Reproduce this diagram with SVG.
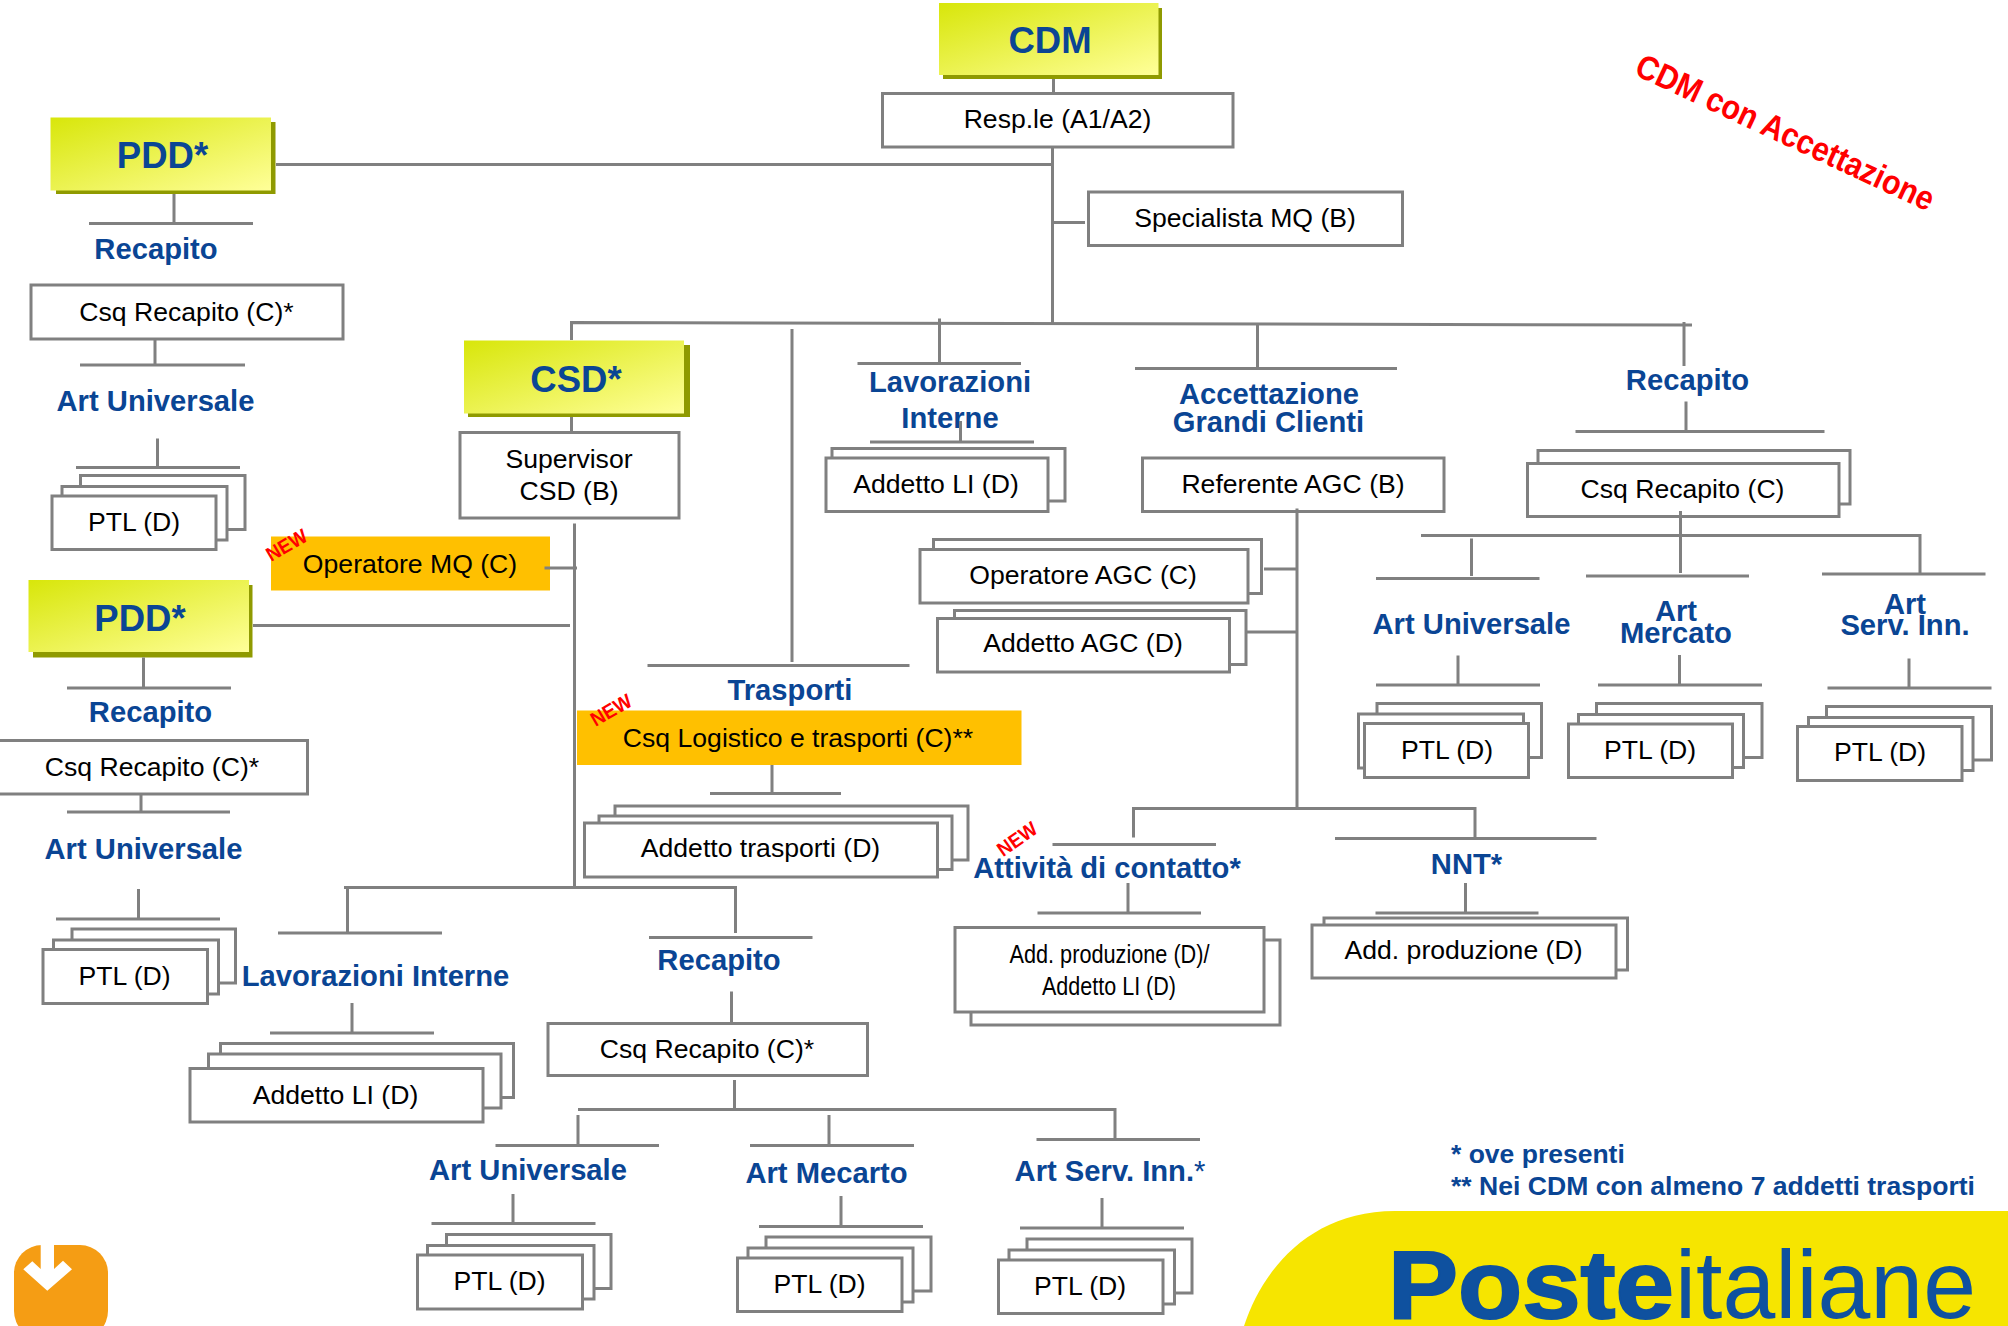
<svg xmlns="http://www.w3.org/2000/svg" width="2008" height="1326" viewBox="0 0 2008 1326">
<style>
text{font-family:"Liberation Sans",Arial,sans-serif;text-anchor:middle}
.b{fill:#fff;stroke:#808080;stroke-width:3}
.o{fill:#FFC000}
.s{fill:#8F9A00}
.y{fill:url(#yg)}
.t{font-size:26.6px;fill:#000;transform:translateY(-1.2px)}
.h{font-size:29.2px;font-weight:700;fill:#0A4594;transform:translateY(-1.2px)}
.k{font-size:36.5px;font-weight:700;fill:#0A4594;transform:translateY(-1.2px)}
.n{font-size:20px;font-weight:700;fill:#FF0000}
.f{font-size:26.5px;font-weight:700;fill:#0A4594;text-anchor:start;transform:translateY(-1.2px)}
#connectors path{fill:none;stroke:#808080;stroke-width:3}
</style>
<defs>
<linearGradient id="yg" x1="0" y1="0" x2="1" y2="1">
<stop offset="0" stop-color="#D8E60A"/>
<stop offset="1" stop-color="#FFFF99"/>
</linearGradient>
</defs>
<rect width="2008" height="1326" fill="#fff"/>

<g id="logo">
<path d="M1244 1326C1262 1270 1310 1211 1395 1211H2008V1326Z" fill="#F6E500"/>
<text x="1388" y="1318" font-size="96" font-weight="700" fill="#0F519F" stroke="#0F519F" stroke-width="2" textLength="286" lengthAdjust="spacingAndGlyphs" style="text-anchor:start">Poste</text>
<text x="1675" y="1318" font-size="96" fill="#0F519F" textLength="301" lengthAdjust="spacingAndGlyphs" style="text-anchor:start">italiane</text>
</g>
<g id="download-icon">
<rect x="14" y="1245" width="94" height="94" rx="28" fill="#F59D14"/>
<path d="M40.7 1245H54V1269L63 1260.7L72 1269.3L47.3 1290.7L23.3 1269.3L32.3 1261.3L40.7 1269Z" fill="#fff"/>
</g>
<text id="title-note" class="n" transform="translate(1785 133) rotate(25)" y="11" textLength="325" lengthAdjust="spacingAndGlyphs" style="font-size:34px">CDM con Accettazione</text>

<g id="cdm"><rect class="s" x="943" y="8" width="219" height="71"/><rect class="y" x="939" y="3" width="219.500" height="72"/><text class="k" x="1050" y="54.500">CDM</text></g>
<g id="resp"><rect class="b" x="882.500" y="93.500" width="350.500" height="53.500"/><text class="t" x="1057.500" y="129">Resp.le (A1/A2)</text></g>
<g id="specialista-mq"><rect class="b" x="1088.500" y="192" width="314" height="53.500"/><text class="t" x="1245" y="228.500">Specialista MQ (B)</text></g>

<g id="pdd-1"><rect class="s" x="56" y="122" width="219.500" height="72"/><rect class="y" x="50.500" y="117.500" width="220.500" height="73"/><text class="k" x="162.500" y="169.500">PDD*</text></g>
<g id="recapito-1"><text class="h" x="156" y="260">Recapito</text></g>
<g id="csq-recapito-1"><rect class="b" x="31" y="285" width="312" height="54"/><text class="t" x="186.500" y="322">Csq Recapito (C)*</text></g>
<g id="art-universale-1"><text class="h" x="155.500" y="412.500">Art Universale</text></g>
<g id="ptl-1"><rect class="b" x="80.500" y="475.500" width="164.500" height="54"/><rect class="b" x="62" y="486.500" width="165" height="53.500"/><rect class="b" x="52" y="496" width="164" height="53.500"/><text class="t" x="134" y="532">PTL (D)</text></g>

<g id="csd"><rect class="s" x="468" y="345" width="222" height="72"/><rect class="y" x="464" y="340.500" width="220" height="73"/><text class="k" x="576" y="393.500">CSD*</text></g>
<g id="supervisor-csd"><rect class="b" x="460" y="432.500" width="219" height="85.500"/><text class="t" x="569" y="469">Supervisor</text><text class="t" x="569" y="501">CSD (B)</text></g>
<g id="operatore-mq"><rect class="o" x="271" y="536.500" width="279" height="54"/><text class="t" x="410" y="574.500">Operatore MQ (C)</text><text class="n" transform="translate(286.500 545) rotate(-30)" y="7" textLength="44" lengthAdjust="spacingAndGlyphs">NEW</text></g>

<g id="pdd-2"><rect class="s" x="33" y="585" width="219.500" height="72.500"/><rect class="y" x="28.500" y="580" width="220.500" height="72"/><text class="k" x="140" y="632.500">PDD*</text></g>
<g id="recapito-2"><text class="h" x="150.500" y="723.500">Recapito</text></g>
<g id="csq-recapito-2"><rect class="b" x="-3" y="740.500" width="310.500" height="53.500"/><text class="t" x="152" y="777">Csq Recapito (C)*</text></g>
<g id="art-universale-2"><text class="h" x="143.500" y="860">Art Universale</text></g>
<g id="ptl-2"><rect class="b" x="72" y="929" width="163.500" height="54"/><rect class="b" x="53.500" y="940" width="165" height="54"/><rect class="b" x="43" y="949.500" width="164.500" height="54"/><text class="t" x="124.500" y="986">PTL (D)</text></g>

<g id="lavorazioni-interne-csd"><text class="h" x="375.500" y="987">Lavorazioni Interne</text></g>
<g id="addetto-li-csd"><rect class="b" x="220.500" y="1043.500" width="293" height="54"/><rect class="b" x="208.500" y="1054" width="292.500" height="54"/><rect class="b" x="190" y="1068.500" width="293" height="53.500"/><text class="t" x="335.500" y="1105">Addetto LI (D)</text></g>

<g id="recapito-csd"><text class="h" x="719" y="971.500">Recapito</text></g>
<g id="csq-recapito-csd"><rect class="b" x="548" y="1023.500" width="319.500" height="52"/><text class="t" x="707" y="1059">Csq Recapito (C)*</text></g>
<g id="art-universale-csd"><text class="h" x="528" y="1181.500">Art Universale</text></g>
<g id="art-mecarto-csd"><text class="h" x="826.500" y="1184">Art Mecarto</text></g>
<g id="art-serv-inn-csd"><text class="h" x="1110" y="1182.500">Art Serv. Inn.<tspan font-weight="400">*</tspan></text></g>
<g id="ptl-csd-1"><rect class="b" x="446.500" y="1234.500" width="164.500" height="54"/><rect class="b" x="427.500" y="1245.500" width="166.500" height="53.500"/><rect class="b" x="417.500" y="1255" width="165" height="54"/><text class="t" x="499.500" y="1291.500">PTL (D)</text></g>
<g id="ptl-csd-2"><rect class="b" x="766" y="1237" width="165" height="54"/><rect class="b" x="748" y="1248" width="165" height="54"/><rect class="b" x="737.500" y="1258" width="164.500" height="53.500"/><text class="t" x="819.500" y="1294">PTL (D)</text></g>
<g id="ptl-csd-3"><rect class="b" x="1027" y="1239" width="165" height="54"/><rect class="b" x="1009" y="1250" width="165.500" height="54"/><rect class="b" x="998.500" y="1260" width="164.500" height="53.500"/><text class="t" x="1080" y="1296">PTL (D)</text></g>

<g id="trasporti"><text class="h" x="790" y="701">Trasporti</text></g>
<g id="csq-logistico"><rect class="o" x="577" y="710.500" width="444.500" height="54.500"/><text class="t" x="798" y="748">Csq Logistico e trasporti (C)**</text><text class="n" transform="translate(611 710) rotate(-30)" y="7" textLength="44" lengthAdjust="spacingAndGlyphs">NEW</text></g>
<g id="addetto-trasporti"><rect class="b" x="615" y="806" width="353" height="54"/><rect class="b" x="599" y="816" width="353" height="53.500"/><rect class="b" x="584.500" y="823" width="353" height="54"/><text class="t" x="760.500" y="858">Addetto trasporti (D)</text></g>

<g id="lavorazioni-interne"><text class="h" x="950" y="393.500">Lavorazioni</text><text class="h" x="950" y="429.500">Interne</text></g>
<g id="addetto-li"><rect class="b" x="832" y="448.500" width="233" height="52.500"/><rect class="b" x="826" y="458" width="222" height="53.500"/><text class="t" x="936" y="494.500">Addetto LI (D)</text></g>

<g id="accettazione"><text class="h" x="1269" y="405">Accettazione</text><text class="h" x="1268.500" y="433.500">Grandi Clienti</text></g>
<g id="referente-agc"><rect class="b" x="1142.500" y="458" width="301.500" height="53.500"/><text class="t" x="1293" y="494.500">Referente AGC (B)</text></g>
<g id="operatore-agc"><rect class="b" x="933.500" y="539.500" width="328" height="54"/><rect class="b" x="920" y="549.500" width="328" height="53.500"/><text class="t" x="1083" y="585">Operatore AGC (C)</text></g>
<g id="addetto-agc"><rect class="b" x="954.500" y="610.500" width="291.500" height="54"/><rect class="b" x="937.500" y="618.500" width="292" height="53.500"/><text class="t" x="1083" y="653.500">Addetto AGC (D)</text></g>

<g id="attivita-contatto"><text class="h" x="1107" y="879.500">Attività di contatto*</text><text class="n" transform="translate(1017 839) rotate(-35)" y="7" textLength="44" lengthAdjust="spacingAndGlyphs">NEW</text></g>
<g id="add-produzione-li"><rect class="b" x="971" y="940" width="309" height="85"/><rect class="b" x="955" y="927.500" width="309" height="84.500"/><text class="t" x="1109.500" y="964" textLength="200" lengthAdjust="spacingAndGlyphs">Add. produzione (D)/</text><text class="t" x="1109" y="996.500" textLength="134" lengthAdjust="spacingAndGlyphs">Addetto LI (D)</text></g>
<g id="nnt"><text class="h" x="1466.500" y="875">NNT*</text></g>
<g id="add-produzione"><rect class="b" x="1324" y="918" width="303.500" height="52"/><rect class="b" x="1312" y="925" width="304" height="53"/><text class="t" x="1463.500" y="960.500">Add. produzione (D)</text></g>

<g id="recapito-r"><text class="h" x="1687.500" y="391.500">Recapito</text></g>
<g id="csq-recapito-r"><rect class="b" x="1538" y="450.500" width="312" height="53.500"/><rect class="b" x="1527.500" y="463.500" width="311.500" height="53"/><text class="t" x="1682.500" y="499">Csq Recapito (C)</text></g>
<g id="art-universale-r"><text class="h" x="1471.500" y="635">Art Universale</text></g>
<g id="art-mercato-r"><text class="h" x="1676" y="622.500">Art</text><text class="h" x="1676" y="644.500">Mercato</text></g>
<g id="art-serv-inn-r"><text class="h" x="1905" y="615">Art</text><text class="h" x="1905" y="636.500">Serv. Inn.</text></g>
<g id="ptl-r-1"><rect class="b" x="1377" y="703.500" width="164.500" height="54"/><rect class="b" x="1358.500" y="714" width="165" height="54"/><rect class="b" x="1364.500" y="723.500" width="164" height="54"/><text class="t" x="1447" y="760">PTL (D)</text></g>
<g id="ptl-r-2"><rect class="b" x="1596.500" y="703.500" width="165.500" height="54"/><rect class="b" x="1578.500" y="714.500" width="165" height="53"/><rect class="b" x="1568.500" y="724" width="164" height="53.500"/><text class="t" x="1650" y="760">PTL (D)</text></g>
<g id="ptl-r-3"><rect class="b" x="1826.500" y="706.500" width="165" height="53.500"/><rect class="b" x="1808.500" y="717.500" width="164.500" height="53"/><rect class="b" x="1797.500" y="726.500" width="164.500" height="54"/><text class="t" x="1880" y="762.500">PTL (D)</text></g>

<g id="footnotes"><text class="f" x="1451" y="1164">* ove presenti</text><text class="f" x="1451" y="1196" textLength="524" lengthAdjust="spacingAndGlyphs">** Nei CDM con almeno 7 addetti trasporti</text></g>

<g id="connectors">
<path d="M1053.500 79V93"/>
<path d="M1052.500 147V323"/>
<path d="M276 164.500H1052.500"/>
<path d="M1052.500 222.500H1085"/>
<path d="M571.500 340V322.500L1692 325"/>
<path d="M174 194V223.500M89 223.500H253"/>
<path d="M155 339V365M80 365H245"/>
<path d="M157.500 438.500V467.500M76 467.500H240"/>
<path d="M571.500 417V432.500"/>
<path d="M574.500 523.500V886"/>
<path d="M544.500 568H577"/>
<path d="M253 625.500H570"/>
<path d="M143.500 657.500V688M67 688H231"/>
<path d="M141 794V812M67 812H230"/>
<path d="M138.500 889V919M56 919H220"/>
<path d="M344 887.500H735.500V933"/>
<path d="M347.500 887.500V933M278 933H442"/>
<path d="M649 937.500H812.500"/>
<path d="M352 1003V1033M270 1033H434"/>
<path d="M731.500 991.500V1022"/>
<path d="M734.500 1080V1109M578 1109.500H1115V1139M1036.500 1139.500H1200"/>
<path d="M578 1115V1145.500M495.500 1145.500H659"/>
<path d="M829 1115V1145.500M750 1145.500H914"/>
<path d="M513 1194V1223.500M431.500 1223.500H595.500"/>
<path d="M841 1196V1226.500M759 1226.500H923"/>
<path d="M1102 1198V1228M1020 1228H1184"/>
<path d="M792 329V662M647.500 665.500H909.500"/>
<path d="M772 765V793M710 793.500H841"/>
<path d="M939.500 318.500V363.500M857.500 363.500H1021"/>
<path d="M960.500 421V442M870 442H1034"/>
<path d="M1257.500 323.500V368.500M1135 368.500H1397"/>
<path d="M1297 508.500V808.500"/>
<path d="M1264 569H1297M1246 632H1297"/>
<path d="M1133.500 837.500V808.500H1475V838.500"/>
<path d="M1052.500 844.500H1216"/>
<path d="M1335 838.500H1596.500"/>
<path d="M1128 883V913M1037.500 913H1201"/>
<path d="M1465.500 883V913M1375.500 913H1538.500"/>
<path d="M1684 322V366"/>
<path d="M1686 401.500V431.500M1575.500 431.500H1824.500"/>
<path d="M1680.500 511V573M1421 535.500H1920V574M1822 574H1985.500"/>
<path d="M1586 576H1749"/>
<path d="M1471.500 538.500V576M1376 578.500H1539.500"/>
<path d="M1458 655.500V685M1376 685H1540"/>
<path d="M1679.500 655V685M1598 685H1762"/>
<path d="M1909 658.500V688M1827.500 688H1991.500"/>
</g>
</svg>
